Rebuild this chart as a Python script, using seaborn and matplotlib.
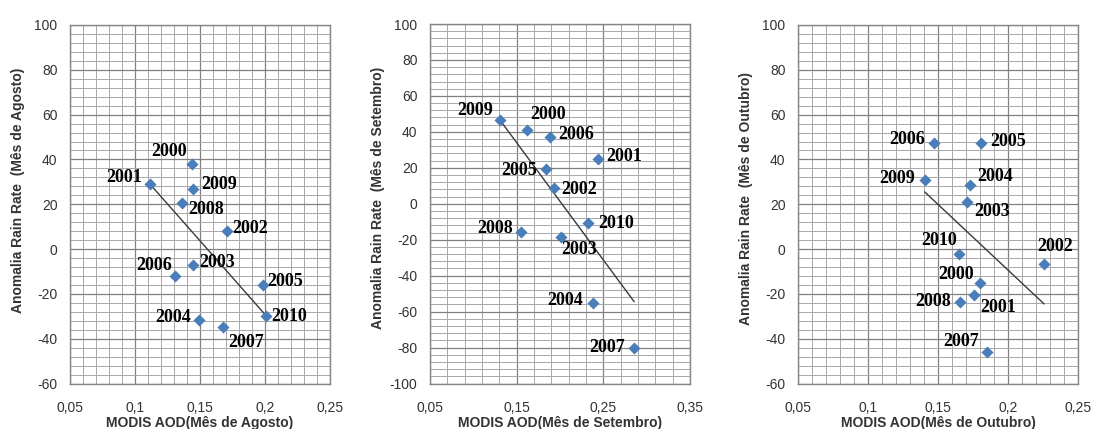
import numpy as np
import pandas as pd
import seaborn as sns
import matplotlib.pyplot as plt
from matplotlib.ticker import FixedLocator, MultipleLocator, FuncFormatter

sns.set_style('white')
plt.rcParams['font.family'] = ['Liberation Sans', 'DejaVu Sans']
plt.rcParams['axes.unicode_minus'] = False

years = [2000, 2001, 2002, 2003, 2004, 2005, 2006, 2007, 2008, 2009, 2010]

# Agosto
ago_aod = [0.1436, 0.1115, 0.1705, 0.1444, 0.1492, 0.1987, 0.1308, 0.168, 0.1364, 0.1449, 0.2005]
ago_rain = [38, 29, 8, -7, -31.5, -16, -12, -35, 20.7, 27, -30]
ago_trend_x = [0.1115, 0.2005]
ago_trend_y = [29, -29.5]

# Setembro
set_aod = [0.1623, 0.2442, 0.1931, 0.2012, 0.2385, 0.1838, 0.1885, 0.2856, 0.1546, 0.1308, 0.2327]
set_rain = [41, 25, 8.5, -18.5, -55, 19.5, 37, -80, -15.5, 46.5, -10.5]
set_trend_x = [0.1308, 0.2856]
set_trend_y = [46.5, -54.5]

# Outubro
out_aod = [0.1797, 0.1757, 0.2258, 0.171, 0.1726, 0.181, 0.147, 0.1848, 0.1656, 0.1405, 0.1649]
out_rain = [-15, -20.5, -6.5, 21, 28.5, 47.5, 47.5, -46, -23.5, 31, -2]
out_trend_x = [0.1405, 0.2258]
out_trend_y = [25.5, -24.5]

# label placement (pixel offsets dx, dy, ha) per year, same order as years
ago_lab = [(-5, 12, 'right'), (-8, 7, 'right'), (6, 3, 'left'), (7, 2.5, 'left'),
           (-7.5, 2.5, 'right'), (3.5, 3.5, 'left'), (-3.5, 10, 'right'), (5, -15, 'left'),
           (6, -6.5, 'left'), (8, 4, 'left'), (6, 0, 'left')]
set_lab = [(2.7, 16, 'left'), (8, 2, 'left'), (7.7, -1, 'left'), (0.7, -12.5, 'left'),
           (-10, 2, 'right'), (-9.3, -1.5, 'right'), (8, 2.5, 'left'), (-9, 0.5, 'right'),
           (-7.3, 3.3, 'right'), (-6.7, 10, 'right'), (10, -1, 'left')]
out_lab = [(-5.7, 7.7, 'right'), (6.7, -12.7, 'left'), (11, 16.7, 'center'), (6.7, -9, 'left'),
           (7.7, 9, 'left'), (9.3, 1, 'left'), (-8.3, 2.7, 'right'), (-7.7, 11, 'right'),
           (-9.3, 0, 'right'), (-9.3, 1, 'right'), (-1.7, 13.3, 'right')]

panels = [
    dict(aod=ago_aod, rain=ago_rain, tx=ago_trend_x, ty=ago_trend_y, lab=ago_lab,
         mes='Agosto', xlim=(0.05, 0.25), xmaj=0.05, xmin=0.01, ylim=(-60, 100),
         rect=[70 / 1095, 1 - 383.5 / 429, 260 / 1095, 358.5 / 429], ylc=0.54),
    dict(aod=set_aod, rain=set_rain, tx=set_trend_x, ty=set_trend_y, lab=set_lab,
         mes='Setembro', xlim=(0.05, 0.35), xmaj=0.1, xmin=0.02, ylim=(-100, 100),
         rect=[430 / 1095, 1 - 383.5 / 429, 260 / 1095, 359.5 / 429], ylc=0.516),
    dict(aod=out_aod, rain=out_rain, tx=out_trend_x, ty=out_trend_y, lab=out_lab,
         mes='Outubro', xlim=(0.05, 0.25), xmaj=0.05, xmin=0.01, ylim=(-60, 100),
         rect=[798 / 1095, 1 - 383.5 / 429, 280 / 1095, 358.5 / 429], ylc=0.517),
]


def comma_fmt(v, pos):
    return ('%g' % round(v, 3)).replace('.', ',')


fig = plt.figure(figsize=(10.95, 4.29), dpi=100)

for p in panels:
    ax = fig.add_axes(p['rect'])
    df = pd.DataFrame({'year': years, 'aod': p['aod'], 'rain': p['rain']})
    trend = pd.DataFrame({'aod': p['tx'], 'rain': p['ty']})

    x0, x1 = p['xlim']
    ax.set_xlim(x0, x1)
    ax.set_ylim(*p['ylim'])
    ax.xaxis.set_major_locator(FixedLocator(np.arange(x0, x1 + 1e-9, p['xmaj'])))
    ax.xaxis.set_minor_locator(FixedLocator(np.arange(x0, x1 + 1e-9, p['xmin'])))
    ax.yaxis.set_major_locator(MultipleLocator(20))
    ax.yaxis.set_minor_locator(MultipleLocator(4))
    ax.xaxis.set_major_formatter(FuncFormatter(comma_fmt))
    ax.grid(True, which='major', color='#808080', lw=0.9)
    ax.grid(True, which='minor', color='#a8a8a8', lw=0.7)
    ax.set_axisbelow(True)

    sns.lineplot(data=trend, x='aod', y='rain', ax=ax, color='#3a3a3a', lw=1, zorder=3)
    sns.scatterplot(data=df, x='aod', y='rain', ax=ax, marker='D', s=38,
                    color='#4a7ebb', linewidth=0, zorder=4)

    for yr, xv, yv, (dx, dy, ha) in zip(years, p['aod'], p['rain'], p['lab']):
        ax.annotate(str(yr), (xv, yv), xytext=(dx, dy), textcoords='offset pixels',
                    ha=ha, va='center', fontsize=13, fontweight='bold',
                    family='Liberation Serif', color='black', zorder=5)

    for s in ax.spines.values():
        s.set_color('#868686')
        s.set_linewidth(1)
    ax.tick_params(axis='both', which='both', length=0, labelsize=10, labelcolor='#333333')
    ax.tick_params(axis='x', pad=12.5)
    ax.tick_params(axis='y', pad=9)

    ax.set_xlabel('MODIS AOD(Mês de %s)' % p['mes'], fontsize=10, fontweight='bold',
                  color='#333333')
    ax.set_ylabel('Anomalia Rain Rate  (Mês de %s)' % p['mes'], fontsize=10,
                  fontweight='bold', color='#333333')
    ax.xaxis.set_label_coords(0.5, -0.09)
    ax.yaxis.set_label_coords(-0.172 * 260 / (p['rect'][2] * 1095), p['ylc'])

fig.savefig('out.png', dpi=100)
